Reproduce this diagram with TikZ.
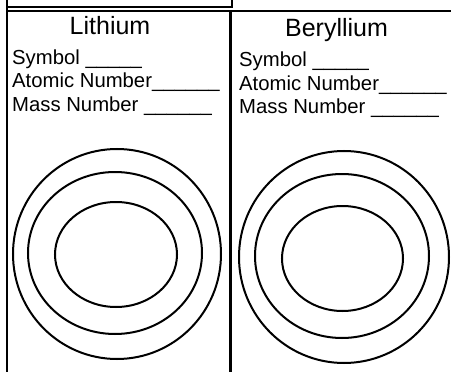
\documentclass[tikz,border=0pt]{standalone}
\usepackage{fontspec}
\setmainfont{Liberation Sans}
\usetikzlibrary{positioning}
\tikzset{
  frame/.style ={draw,line width=2.4pt},
  divider/.style={draw,line width=3pt},
  shell/.style ={draw,line width=2pt},
  title/.style ={anchor=base,inner sep=0pt,font=\fontsize{25}{28}\selectfont},
  field/.style ={anchor=base west,inner sep=0pt,font=\fontsize{20.3}{23}\selectfont},
}

\begin{document}
\begin{tikzpicture}[x=1pt,y=-1pt]
  \useasboundingbox (0,0) rectangle (451,372);
  % frames
  \draw[frame] (7,-4) -- (7,372);
  \draw[frame] (7,7) -- (232,7) -- (232,-4);
  \draw[frame] (7,11) -- (451,11);
  \draw[divider] (230,11) -- (230,372);
  % left card
  \node[title] (li) at (110,34.5) {Lithium};
  \node[field] (lisym)  at (12,64)  {Symbol \_\_\_\_\_};
  \node[field] (linum)  at (12,87.5) {Atomic Number\_\_\_\_\_\_};
  \node[field] (limass) at (12,111) {Mass Number \_\_\_\_\_\_};
  \draw[shell] (117,254) ellipse (104 and 105);
  \draw[shell] (115,253) ellipse (87 and 81);
  \draw[shell] (116,254.5) ellipse (61 and 52.5);
  % right card
  \node[title] (be) at (336.5,36) {Beryllium};
  \node[field] (besym)  at (239,66.5) {Symbol \_\_\_\_\_};
  \node[field] (benum)  at (239,90) {Atomic Number\_\_\_\_\_\_};
  \node[field] (bemass) at (239,113.5) {Mass Number \_\_\_\_\_\_};
  \draw[shell] (344,257) ellipse (105 and 106);
  \draw[shell] (342,256) ellipse (87 and 82);
  \draw[shell] (342.5,258.5) ellipse (60.5 and 52.5);
\end{tikzpicture}
\end{document}
